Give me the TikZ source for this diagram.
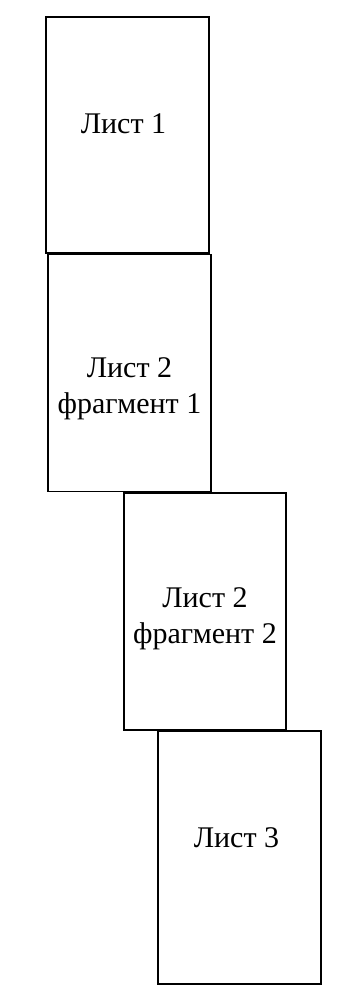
\documentclass[tikz,border=0pt]{standalone}
\usepackage{fontspec}
\setmainfont{Liberation Serif}
\usepackage{tikz}

\tikzset{
  sheet/.style={draw,line width=1.6pt,minimum width=163pt,inner sep=0pt},
  caption/.style={font=\fontsize{30}{36}\selectfont,align=center,anchor=base}
}

\begin{document}
\begin{tikzpicture}[x=1pt,y=-1pt]
\useasboundingbox (0,0) rectangle (350,989);
\node [sheet,minimum height=236pt] (list1) at (127.5,135) {};
\node [sheet,minimum height=237pt] (list2a) at (129.5,373) {};
\node [sheet,minimum height=237pt,minimum width=162pt] (list2b) at (205,611.5) {};
\node [sheet,minimum height=253pt] (list3) at (239.5,857.5) {};
\node [caption] (t1) at (123.5,133) {Лист 1};
\node [caption] (t2a) at (129.5,413) {Лист 2\\фрагмент 1};
\node [caption] (t2b) at (205,643) {Лист 2\\фрагмент 2};
\node [caption] (t3) at (236.5,847) {Лист 3};
\end{tikzpicture}
\end{document}
